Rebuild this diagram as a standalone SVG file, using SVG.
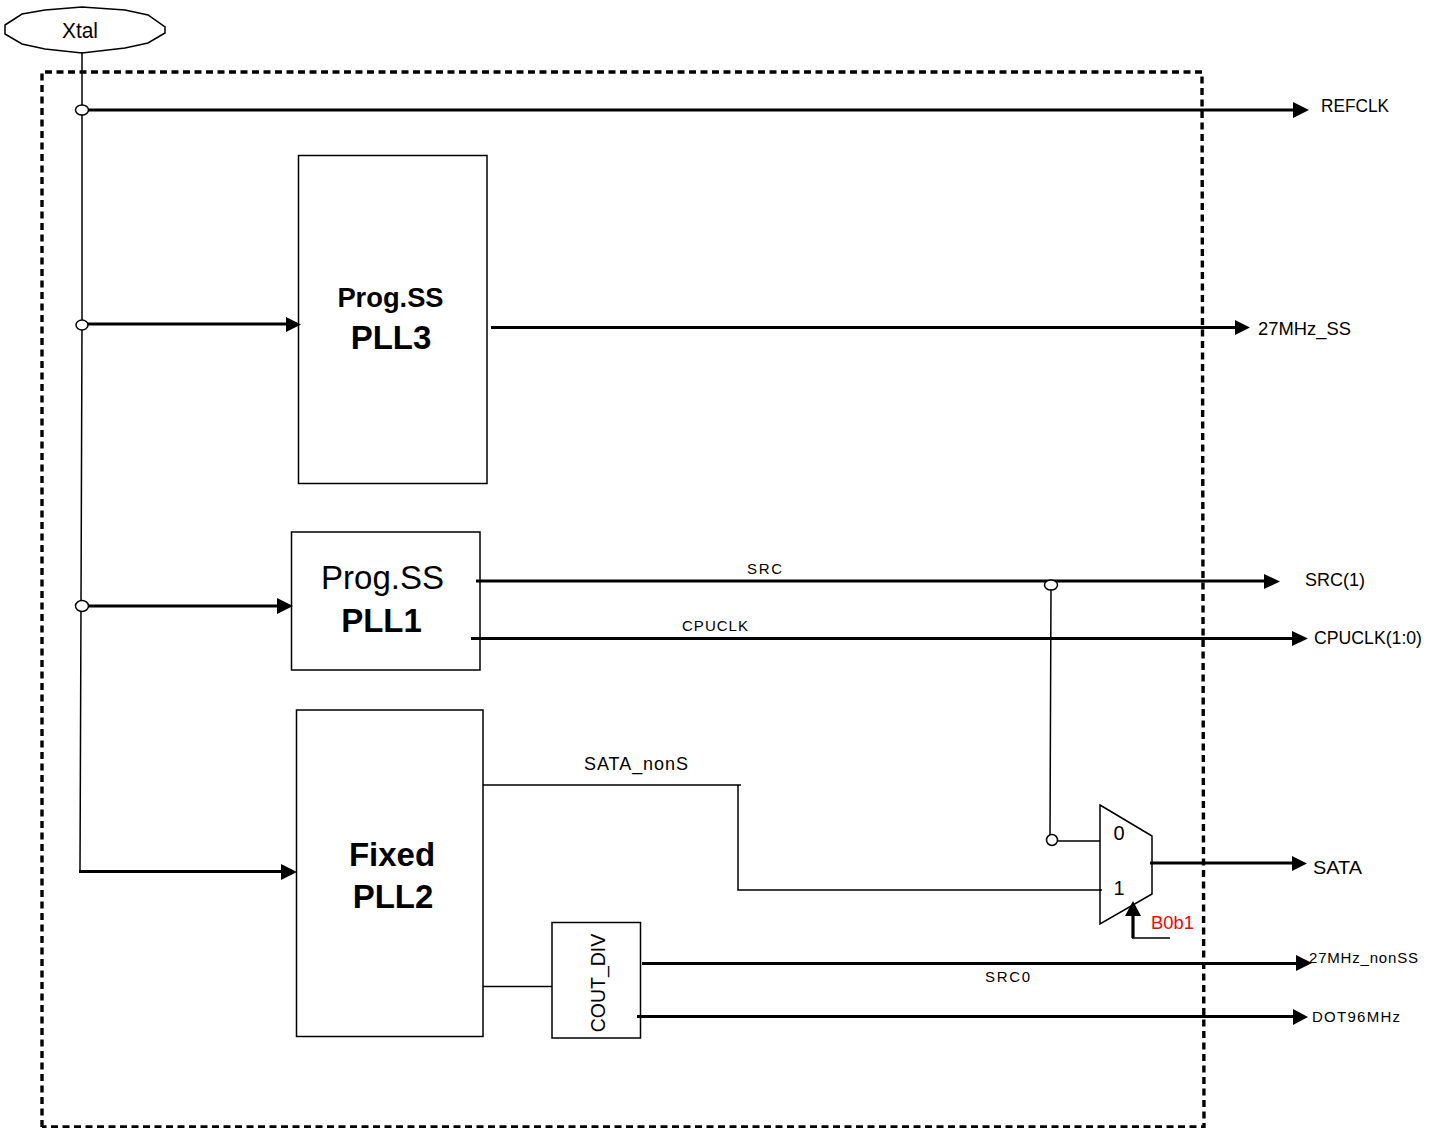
<svg xmlns="http://www.w3.org/2000/svg" width="1439" height="1128" viewBox="0 0 1439 1128">
<style>
text{font-family:"Liberation Sans",Arial,sans-serif;fill:#000}
.b{fill:#fff;stroke:#000;stroke-width:1.5}
.t{fill:none;stroke:#000;stroke-width:1.5}
.k{fill:none;stroke:#000;stroke-width:3.200}
.j{fill:#fff;stroke:#000;stroke-width:1.500}
.a{fill:#000;stroke:none}
.d{fill:none;stroke:#000;stroke-width:3.400;stroke-dasharray:7 4.500}
</style>
<rect width="1439" height="1128" fill="#fff"/>
<g id="boundary"><path class="d" d="M42 1127V72H1202L1204 1127H42"/></g>
<g id="xtal"><path class="b" d="M5 25L22 14L45 10L82 7L125 10L148 15L165 27V33L148 43L125 48L82 53L45 49L22 44L5 34Z"/><text x="80" y="38" font-size="22.500" text-anchor="middle" textLength="36" lengthAdjust="spacingAndGlyphs">Xtal</text></g>
<g id="pll3"><rect class="b" x="298.500" y="155.500" width="188.500" height="328"/><text x="390.500" y="307" font-size="27.300" font-weight="700" text-anchor="middle">Prog.SS</text><text x="391" y="348.500" font-size="33" font-weight="700" text-anchor="middle">PLL3</text></g>
<g id="pll1"><rect class="b" x="291.500" y="532" width="188.500" height="138"/><text x="382.500" y="589" font-size="33" text-anchor="middle">Prog.SS</text><text x="381.500" y="632" font-size="33" font-weight="700" text-anchor="middle">PLL1</text></g>
<g id="pll2"><rect class="b" x="296.500" y="710" width="186.500" height="326.500"/><text x="392" y="866" font-size="33" font-weight="700" text-anchor="middle">Fixed</text><text x="393" y="908" font-size="33" font-weight="700" text-anchor="middle">PLL2</text></g>
<g id="cout_div"><rect class="b" x="552" y="922.500" width="88.500" height="115.500"/><text transform="translate(605 983) rotate(-90)" font-size="19.500" text-anchor="middle">COUT_DIV</text></g>
<g id="mux"><path class="b" d="M1100 805L1152 836V894L1100 924Z"/><text x="1119" y="840" font-size="20" text-anchor="middle">0</text><text x="1119" y="895" font-size="20" text-anchor="middle">1</text></g>
<g id="connectors">
<path class="t" d="M82 52V110M82 110V325M82 325L81 606M81 606L80 871"/>
<path class="k" d="M82 110H1294M82 324H288M491 327.500H1236M82 606H279M79 871.500H283"/>
<path class="k" d="M476 581H1265M471 638.500H1294M1150 863H1293M642 963.500H1297M637 1016.500H1294"/>
<path class="t" d="M1051 585L1050 839M1052 841H1100M483 785H741M738 785V890H1102M483 986.500H552"/>
<path class="k" d="M1133 915V938"/><path class="t" d="M1132 938H1170"/>
<path class="a" d="M1293 102L1309 110L1293 118ZM286 317L301 324.500L286 332ZM1235 320L1250 327.500L1235 335ZM277 598L293 606L277 614ZM281 864L297 872L281 880ZM1264 574L1280 581.500L1264 589ZM1292 631L1308 638.500L1292 646ZM1292 856L1307 863.500L1292 871ZM1296 955L1312 963L1296 971ZM1293 1009L1308 1017L1293 1025ZM1133 901L1141 916H1125Z"/>
<ellipse class="j" cx="82" cy="110" rx="6.500" ry="5"/><ellipse class="j" cx="82" cy="325" rx="6" ry="5"/><ellipse class="j" cx="82" cy="606" rx="6.500" ry="5.500"/><ellipse class="j" cx="1051" cy="585" rx="6.500" ry="5"/><ellipse class="j" cx="1052" cy="840" rx="5.500" ry="5.500"/>
</g>
<g id="labels" font-size="18">
<text x="1321" y="112" textLength="68" lengthAdjust="spacingAndGlyphs">REFCLK</text>
<text x="1258" y="335" textLength="93" lengthAdjust="spacingAndGlyphs">27MHz_SS</text>
<text x="1305" y="586" textLength="60" lengthAdjust="spacingAndGlyphs">SRC(1)</text>
<text x="1314" y="644" textLength="108" lengthAdjust="spacingAndGlyphs">CPUCLK(1:0)</text>
<text x="1313" y="874" textLength="49" lengthAdjust="spacingAndGlyphs">SATA</text>
<text x="1309" y="963" font-size="15" textLength="109">27MHz_nonSS</text>
<text x="1312" y="1022" font-size="15" textLength="88">DOT96MHz</text>
<text x="747" y="574" font-size="15" textLength="35">SRC</text>
<text x="682" y="631" font-size="15" textLength="66">CPUCLK</text>
<text x="584" y="770" textLength="104">SATA_nonS</text>
<text x="985" y="982" font-size="15" textLength="45">SRC0</text>
<text x="1151" y="929" style="fill:#f00" textLength="43" lengthAdjust="spacingAndGlyphs">B0b1</text>
</g>
</svg>
